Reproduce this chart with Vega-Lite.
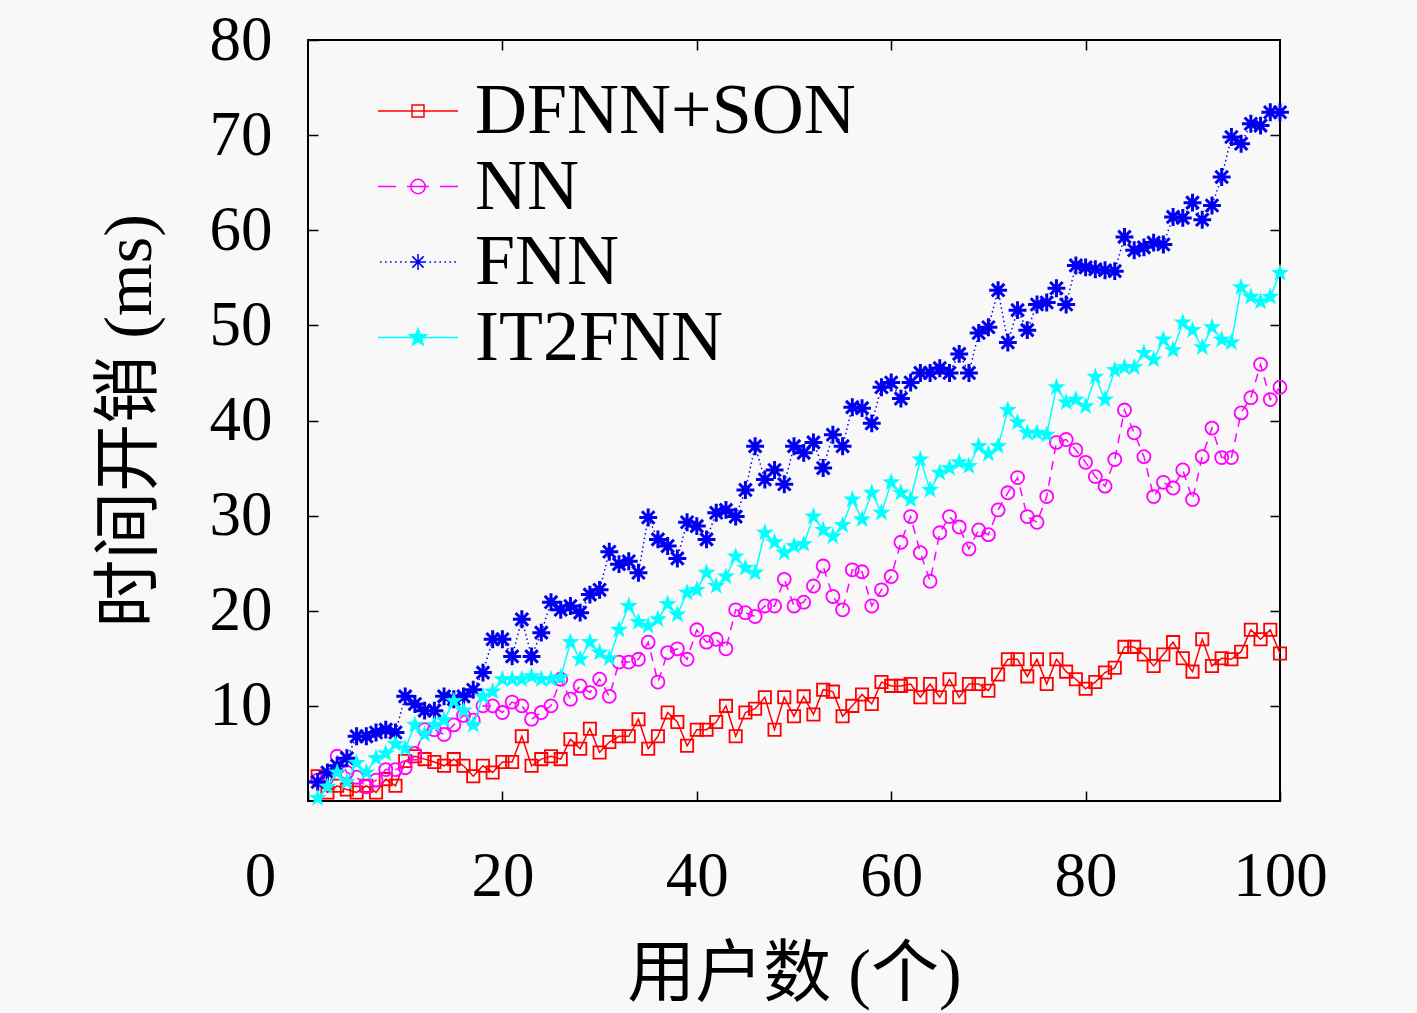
{
  "$schema": "https://vega.github.io/schema/vega-lite/v6.json",
  "width": 972,
  "height": 761,
  "autosize": "none",
  "padding": {"left": 308, "top": 40, "right": 137, "bottom": 212},
  "background": "#f8f8f8",
  "config": {
    "font": "Liberation Serif, Noto Sans CJK SC",
    "view": {"stroke": "black", "strokeWidth": 2},
    "axis": {
      "grid": false,
      "domain": false,
      "tickColor": "black",
      "tickWidth": 1.5,
      "tickSize": -10,
      "labelColor": "black",
      "labelFont": "Liberation Serif",
      "labelFontSize": 63,
      "labelFlush": false,
      "labelOverlap": false,
      "titleColor": "black",
      "titleFont": "Liberation Serif, Noto Sans CJK SC",
      "titleFontSize": 68,
      "titleFontWeight": "normal"
    }
  },
  "data": {
    "values": [
      {"s": "DFNN+SON", "x": 1, "y": 2.6}, {"s": "DFNN+SON", "x": 2, "y": 0.9}, {"s": "DFNN+SON", "x": 3, "y": 1.6}, {"s": "DFNN+SON", "x": 4, "y": 1.2}, {"s": "DFNN+SON", "x": 5, "y": 0.9},
      {"s": "DFNN+SON", "x": 6, "y": 1.6}, {"s": "DFNN+SON", "x": 7, "y": 0.9}, {"s": "DFNN+SON", "x": 8, "y": 2.3}, {"s": "DFNN+SON", "x": 9, "y": 1.6}, {"s": "DFNN+SON", "x": 10, "y": 4.2},
      {"s": "DFNN+SON", "x": 11, "y": 4.7}, {"s": "DFNN+SON", "x": 12, "y": 4.4}, {"s": "DFNN+SON", "x": 13, "y": 4.1}, {"s": "DFNN+SON", "x": 14, "y": 3.7}, {"s": "DFNN+SON", "x": 15, "y": 4.4},
      {"s": "DFNN+SON", "x": 16, "y": 3.7}, {"s": "DFNN+SON", "x": 17, "y": 2.6}, {"s": "DFNN+SON", "x": 18, "y": 3.7}, {"s": "DFNN+SON", "x": 19, "y": 3.0}, {"s": "DFNN+SON", "x": 20, "y": 4.1},
      {"s": "DFNN+SON", "x": 21, "y": 4.1}, {"s": "DFNN+SON", "x": 22, "y": 6.8}, {"s": "DFNN+SON", "x": 23, "y": 3.7}, {"s": "DFNN+SON", "x": 24, "y": 4.4}, {"s": "DFNN+SON", "x": 25, "y": 4.7},
      {"s": "DFNN+SON", "x": 26, "y": 4.4}, {"s": "DFNN+SON", "x": 27, "y": 6.5}, {"s": "DFNN+SON", "x": 28, "y": 5.5}, {"s": "DFNN+SON", "x": 29, "y": 7.6}, {"s": "DFNN+SON", "x": 30, "y": 5.1},
      {"s": "DFNN+SON", "x": 31, "y": 6.2}, {"s": "DFNN+SON", "x": 32, "y": 6.8}, {"s": "DFNN+SON", "x": 33, "y": 6.8}, {"s": "DFNN+SON", "x": 34, "y": 8.6}, {"s": "DFNN+SON", "x": 35, "y": 5.5},
      {"s": "DFNN+SON", "x": 36, "y": 6.8}, {"s": "DFNN+SON", "x": 37, "y": 9.3}, {"s": "DFNN+SON", "x": 38, "y": 8.3}, {"s": "DFNN+SON", "x": 39, "y": 5.8}, {"s": "DFNN+SON", "x": 40, "y": 7.5},
      {"s": "DFNN+SON", "x": 41, "y": 7.5}, {"s": "DFNN+SON", "x": 42, "y": 8.3}, {"s": "DFNN+SON", "x": 43, "y": 10.0}, {"s": "DFNN+SON", "x": 44, "y": 6.8}, {"s": "DFNN+SON", "x": 45, "y": 9.3},
      {"s": "DFNN+SON", "x": 46, "y": 9.7}, {"s": "DFNN+SON", "x": 47, "y": 10.9}, {"s": "DFNN+SON", "x": 48, "y": 7.5}, {"s": "DFNN+SON", "x": 49, "y": 10.9}, {"s": "DFNN+SON", "x": 50, "y": 8.9},
      {"s": "DFNN+SON", "x": 51, "y": 11.0}, {"s": "DFNN+SON", "x": 52, "y": 9.1}, {"s": "DFNN+SON", "x": 53, "y": 11.7}, {"s": "DFNN+SON", "x": 54, "y": 11.5}, {"s": "DFNN+SON", "x": 55, "y": 8.9},
      {"s": "DFNN+SON", "x": 56, "y": 10.0}, {"s": "DFNN+SON", "x": 57, "y": 11.2}, {"s": "DFNN+SON", "x": 58, "y": 10.2}, {"s": "DFNN+SON", "x": 59, "y": 12.5}, {"s": "DFNN+SON", "x": 60, "y": 12.1},
      {"s": "DFNN+SON", "x": 61, "y": 12.1}, {"s": "DFNN+SON", "x": 62, "y": 12.3}, {"s": "DFNN+SON", "x": 63, "y": 10.9}, {"s": "DFNN+SON", "x": 64, "y": 12.3}, {"s": "DFNN+SON", "x": 65, "y": 10.9},
      {"s": "DFNN+SON", "x": 66, "y": 12.8}, {"s": "DFNN+SON", "x": 67, "y": 10.9}, {"s": "DFNN+SON", "x": 68, "y": 12.3}, {"s": "DFNN+SON", "x": 69, "y": 12.3}, {"s": "DFNN+SON", "x": 70, "y": 11.6},
      {"s": "DFNN+SON", "x": 71, "y": 13.3}, {"s": "DFNN+SON", "x": 72, "y": 14.9}, {"s": "DFNN+SON", "x": 73, "y": 14.9}, {"s": "DFNN+SON", "x": 74, "y": 13.1}, {"s": "DFNN+SON", "x": 75, "y": 14.9},
      {"s": "DFNN+SON", "x": 76, "y": 12.3}, {"s": "DFNN+SON", "x": 77, "y": 14.9}, {"s": "DFNN+SON", "x": 78, "y": 13.6}, {"s": "DFNN+SON", "x": 79, "y": 12.8}, {"s": "DFNN+SON", "x": 80, "y": 11.8},
      {"s": "DFNN+SON", "x": 81, "y": 12.5}, {"s": "DFNN+SON", "x": 82, "y": 13.5}, {"s": "DFNN+SON", "x": 83, "y": 14.0}, {"s": "DFNN+SON", "x": 84, "y": 16.2}, {"s": "DFNN+SON", "x": 85, "y": 16.2},
      {"s": "DFNN+SON", "x": 86, "y": 15.4}, {"s": "DFNN+SON", "x": 87, "y": 14.2}, {"s": "DFNN+SON", "x": 88, "y": 15.4}, {"s": "DFNN+SON", "x": 89, "y": 16.7}, {"s": "DFNN+SON", "x": 90, "y": 15.0},
      {"s": "DFNN+SON", "x": 91, "y": 13.6}, {"s": "DFNN+SON", "x": 92, "y": 17.0}, {"s": "DFNN+SON", "x": 93, "y": 14.2}, {"s": "DFNN+SON", "x": 94, "y": 15.0}, {"s": "DFNN+SON", "x": 95, "y": 14.9},
      {"s": "DFNN+SON", "x": 96, "y": 15.7}, {"s": "DFNN+SON", "x": 97, "y": 18.0}, {"s": "DFNN+SON", "x": 98, "y": 17.0}, {"s": "DFNN+SON", "x": 99, "y": 18.0}, {"s": "DFNN+SON", "x": 100, "y": 15.5},
      {"s": "NN", "x": 1, "y": 2.2}, {"s": "NN", "x": 2, "y": 2.5}, {"s": "NN", "x": 3, "y": 4.7}, {"s": "NN", "x": 4, "y": 3.0}, {"s": "NN", "x": 5, "y": 2.5},
      {"s": "NN", "x": 6, "y": 1.5}, {"s": "NN", "x": 7, "y": 2.2}, {"s": "NN", "x": 8, "y": 3.3}, {"s": "NN", "x": 9, "y": 3.3}, {"s": "NN", "x": 10, "y": 3.5},
      {"s": "NN", "x": 11, "y": 5.0}, {"s": "NN", "x": 12, "y": 7.5}, {"s": "NN", "x": 13, "y": 7.5}, {"s": "NN", "x": 14, "y": 7.0}, {"s": "NN", "x": 15, "y": 8.0},
      {"s": "NN", "x": 16, "y": 9.0}, {"s": "NN", "x": 17, "y": 8.5}, {"s": "NN", "x": 18, "y": 10.0}, {"s": "NN", "x": 19, "y": 10.0}, {"s": "NN", "x": 20, "y": 9.3},
      {"s": "NN", "x": 21, "y": 10.4}, {"s": "NN", "x": 22, "y": 10.0}, {"s": "NN", "x": 23, "y": 8.6}, {"s": "NN", "x": 24, "y": 9.3}, {"s": "NN", "x": 25, "y": 10.0},
      {"s": "NN", "x": 26, "y": 12.8}, {"s": "NN", "x": 27, "y": 10.7}, {"s": "NN", "x": 28, "y": 12.1}, {"s": "NN", "x": 29, "y": 11.4}, {"s": "NN", "x": 30, "y": 12.8},
      {"s": "NN", "x": 31, "y": 11.0}, {"s": "NN", "x": 32, "y": 14.6}, {"s": "NN", "x": 33, "y": 14.6}, {"s": "NN", "x": 34, "y": 14.9}, {"s": "NN", "x": 35, "y": 16.7},
      {"s": "NN", "x": 36, "y": 12.5}, {"s": "NN", "x": 37, "y": 15.6}, {"s": "NN", "x": 38, "y": 16.0}, {"s": "NN", "x": 39, "y": 14.9}, {"s": "NN", "x": 40, "y": 18.0},
      {"s": "NN", "x": 41, "y": 16.7}, {"s": "NN", "x": 42, "y": 17.0}, {"s": "NN", "x": 43, "y": 16.0}, {"s": "NN", "x": 44, "y": 20.1}, {"s": "NN", "x": 45, "y": 19.8},
      {"s": "NN", "x": 46, "y": 19.4}, {"s": "NN", "x": 47, "y": 20.5}, {"s": "NN", "x": 48, "y": 20.5}, {"s": "NN", "x": 49, "y": 23.3}, {"s": "NN", "x": 50, "y": 20.5},
      {"s": "NN", "x": 51, "y": 20.9}, {"s": "NN", "x": 52, "y": 22.6}, {"s": "NN", "x": 53, "y": 24.7}, {"s": "NN", "x": 54, "y": 21.5}, {"s": "NN", "x": 55, "y": 20.1},
      {"s": "NN", "x": 56, "y": 24.3}, {"s": "NN", "x": 57, "y": 24.1}, {"s": "NN", "x": 58, "y": 20.5}, {"s": "NN", "x": 59, "y": 22.2}, {"s": "NN", "x": 60, "y": 23.6},
      {"s": "NN", "x": 61, "y": 27.2}, {"s": "NN", "x": 62, "y": 29.9}, {"s": "NN", "x": 63, "y": 26.1}, {"s": "NN", "x": 64, "y": 23.1}, {"s": "NN", "x": 65, "y": 28.2},
      {"s": "NN", "x": 66, "y": 29.9}, {"s": "NN", "x": 67, "y": 28.8}, {"s": "NN", "x": 68, "y": 26.5}, {"s": "NN", "x": 69, "y": 28.5}, {"s": "NN", "x": 70, "y": 28.0},
      {"s": "NN", "x": 71, "y": 30.6}, {"s": "NN", "x": 72, "y": 32.4}, {"s": "NN", "x": 73, "y": 34.0}, {"s": "NN", "x": 74, "y": 29.9}, {"s": "NN", "x": 75, "y": 29.3},
      {"s": "NN", "x": 76, "y": 32.0}, {"s": "NN", "x": 77, "y": 37.7}, {"s": "NN", "x": 78, "y": 38.0}, {"s": "NN", "x": 79, "y": 36.9}, {"s": "NN", "x": 80, "y": 35.6},
      {"s": "NN", "x": 81, "y": 34.1}, {"s": "NN", "x": 82, "y": 33.1}, {"s": "NN", "x": 83, "y": 35.9}, {"s": "NN", "x": 84, "y": 41.1}, {"s": "NN", "x": 85, "y": 38.7},
      {"s": "NN", "x": 86, "y": 36.2}, {"s": "NN", "x": 87, "y": 32.0}, {"s": "NN", "x": 88, "y": 33.5}, {"s": "NN", "x": 89, "y": 32.9}, {"s": "NN", "x": 90, "y": 34.8},
      {"s": "NN", "x": 91, "y": 31.7}, {"s": "NN", "x": 92, "y": 36.2}, {"s": "NN", "x": 93, "y": 39.2}, {"s": "NN", "x": 94, "y": 36.1}, {"s": "NN", "x": 95, "y": 36.1},
      {"s": "NN", "x": 96, "y": 40.8}, {"s": "NN", "x": 97, "y": 42.4}, {"s": "NN", "x": 98, "y": 45.9}, {"s": "NN", "x": 99, "y": 42.2}, {"s": "NN", "x": 100, "y": 43.5},
      {"s": "FNN", "x": 1, "y": 2.0}, {"s": "FNN", "x": 2, "y": 3.0}, {"s": "FNN", "x": 3, "y": 3.7}, {"s": "FNN", "x": 4, "y": 4.5}, {"s": "FNN", "x": 5, "y": 6.8},
      {"s": "FNN", "x": 6, "y": 6.8}, {"s": "FNN", "x": 7, "y": 7.2}, {"s": "FNN", "x": 8, "y": 7.5}, {"s": "FNN", "x": 9, "y": 7.2}, {"s": "FNN", "x": 10, "y": 11.0},
      {"s": "FNN", "x": 11, "y": 10.2}, {"s": "FNN", "x": 12, "y": 9.5}, {"s": "FNN", "x": 13, "y": 9.5}, {"s": "FNN", "x": 14, "y": 11.0}, {"s": "FNN", "x": 15, "y": 10.7},
      {"s": "FNN", "x": 16, "y": 11.0}, {"s": "FNN", "x": 17, "y": 11.7}, {"s": "FNN", "x": 18, "y": 13.5}, {"s": "FNN", "x": 19, "y": 17.0}, {"s": "FNN", "x": 20, "y": 17.0},
      {"s": "FNN", "x": 21, "y": 15.2}, {"s": "FNN", "x": 22, "y": 19.1}, {"s": "FNN", "x": 23, "y": 15.2}, {"s": "FNN", "x": 24, "y": 17.7}, {"s": "FNN", "x": 25, "y": 20.9},
      {"s": "FNN", "x": 26, "y": 20.1}, {"s": "FNN", "x": 27, "y": 20.5}, {"s": "FNN", "x": 28, "y": 19.8}, {"s": "FNN", "x": 29, "y": 21.7}, {"s": "FNN", "x": 30, "y": 22.2},
      {"s": "FNN", "x": 31, "y": 26.2}, {"s": "FNN", "x": 32, "y": 24.9}, {"s": "FNN", "x": 33, "y": 25.2}, {"s": "FNN", "x": 34, "y": 24.0}, {"s": "FNN", "x": 35, "y": 29.8},
      {"s": "FNN", "x": 36, "y": 27.5}, {"s": "FNN", "x": 37, "y": 26.8}, {"s": "FNN", "x": 38, "y": 25.5}, {"s": "FNN", "x": 39, "y": 29.3}, {"s": "FNN", "x": 40, "y": 28.9},
      {"s": "FNN", "x": 41, "y": 27.5}, {"s": "FNN", "x": 42, "y": 30.3}, {"s": "FNN", "x": 43, "y": 30.6}, {"s": "FNN", "x": 44, "y": 29.9}, {"s": "FNN", "x": 45, "y": 32.7},
      {"s": "FNN", "x": 46, "y": 37.3}, {"s": "FNN", "x": 47, "y": 33.8}, {"s": "FNN", "x": 48, "y": 34.8}, {"s": "FNN", "x": 49, "y": 33.3}, {"s": "FNN", "x": 50, "y": 37.3},
      {"s": "FNN", "x": 51, "y": 36.6}, {"s": "FNN", "x": 52, "y": 37.7}, {"s": "FNN", "x": 53, "y": 35.0}, {"s": "FNN", "x": 54, "y": 38.5}, {"s": "FNN", "x": 55, "y": 37.3},
      {"s": "FNN", "x": 56, "y": 41.4}, {"s": "FNN", "x": 57, "y": 41.3}, {"s": "FNN", "x": 58, "y": 39.7}, {"s": "FNN", "x": 59, "y": 43.5}, {"s": "FNN", "x": 60, "y": 44.0},
      {"s": "FNN", "x": 61, "y": 42.3}, {"s": "FNN", "x": 62, "y": 44.0}, {"s": "FNN", "x": 63, "y": 45.0}, {"s": "FNN", "x": 64, "y": 45.0}, {"s": "FNN", "x": 65, "y": 45.5},
      {"s": "FNN", "x": 66, "y": 45.0}, {"s": "FNN", "x": 67, "y": 47.0}, {"s": "FNN", "x": 68, "y": 45.0}, {"s": "FNN", "x": 69, "y": 49.2}, {"s": "FNN", "x": 70, "y": 49.8},
      {"s": "FNN", "x": 71, "y": 53.7}, {"s": "FNN", "x": 72, "y": 48.2}, {"s": "FNN", "x": 73, "y": 51.6}, {"s": "FNN", "x": 74, "y": 49.5}, {"s": "FNN", "x": 75, "y": 52.2},
      {"s": "FNN", "x": 76, "y": 52.4}, {"s": "FNN", "x": 77, "y": 53.9}, {"s": "FNN", "x": 78, "y": 52.2}, {"s": "FNN", "x": 79, "y": 56.3}, {"s": "FNN", "x": 80, "y": 56.1},
      {"s": "FNN", "x": 81, "y": 55.9}, {"s": "FNN", "x": 82, "y": 55.8}, {"s": "FNN", "x": 83, "y": 55.7}, {"s": "FNN", "x": 84, "y": 59.3}, {"s": "FNN", "x": 85, "y": 57.9},
      {"s": "FNN", "x": 86, "y": 58.2}, {"s": "FNN", "x": 87, "y": 58.7}, {"s": "FNN", "x": 88, "y": 58.5}, {"s": "FNN", "x": 89, "y": 61.4}, {"s": "FNN", "x": 90, "y": 61.3},
      {"s": "FNN", "x": 91, "y": 62.9}, {"s": "FNN", "x": 92, "y": 61.1}, {"s": "FNN", "x": 93, "y": 62.6}, {"s": "FNN", "x": 94, "y": 65.6}, {"s": "FNN", "x": 95, "y": 69.8},
      {"s": "FNN", "x": 96, "y": 69.1}, {"s": "FNN", "x": 97, "y": 71.2}, {"s": "FNN", "x": 98, "y": 71.0}, {"s": "FNN", "x": 99, "y": 72.4}, {"s": "FNN", "x": 100, "y": 72.4},
      {"s": "IT2FNN", "x": 1, "y": 0.3}, {"s": "IT2FNN", "x": 2, "y": 1.5}, {"s": "IT2FNN", "x": 3, "y": 3.0}, {"s": "IT2FNN", "x": 4, "y": 2.0}, {"s": "IT2FNN", "x": 5, "y": 4.0},
      {"s": "IT2FNN", "x": 6, "y": 3.0}, {"s": "IT2FNN", "x": 7, "y": 4.5}, {"s": "IT2FNN", "x": 8, "y": 5.0}, {"s": "IT2FNN", "x": 9, "y": 6.0}, {"s": "IT2FNN", "x": 10, "y": 5.5},
      {"s": "IT2FNN", "x": 11, "y": 8.0}, {"s": "IT2FNN", "x": 12, "y": 7.0}, {"s": "IT2FNN", "x": 13, "y": 8.0}, {"s": "IT2FNN", "x": 14, "y": 8.5}, {"s": "IT2FNN", "x": 15, "y": 10.5},
      {"s": "IT2FNN", "x": 16, "y": 9.5}, {"s": "IT2FNN", "x": 17, "y": 8.0}, {"s": "IT2FNN", "x": 18, "y": 11.0}, {"s": "IT2FNN", "x": 19, "y": 11.5}, {"s": "IT2FNN", "x": 20, "y": 12.8},
      {"s": "IT2FNN", "x": 21, "y": 12.8}, {"s": "IT2FNN", "x": 22, "y": 12.8}, {"s": "IT2FNN", "x": 23, "y": 13.1}, {"s": "IT2FNN", "x": 24, "y": 12.8}, {"s": "IT2FNN", "x": 25, "y": 12.8},
      {"s": "IT2FNN", "x": 26, "y": 13.0}, {"s": "IT2FNN", "x": 27, "y": 16.7}, {"s": "IT2FNN", "x": 28, "y": 14.9}, {"s": "IT2FNN", "x": 29, "y": 16.7}, {"s": "IT2FNN", "x": 30, "y": 15.6},
      {"s": "IT2FNN", "x": 31, "y": 15.0}, {"s": "IT2FNN", "x": 32, "y": 18.0}, {"s": "IT2FNN", "x": 33, "y": 20.5}, {"s": "IT2FNN", "x": 34, "y": 18.8}, {"s": "IT2FNN", "x": 35, "y": 18.4},
      {"s": "IT2FNN", "x": 36, "y": 19.1}, {"s": "IT2FNN", "x": 37, "y": 20.7}, {"s": "IT2FNN", "x": 38, "y": 19.6}, {"s": "IT2FNN", "x": 39, "y": 21.9}, {"s": "IT2FNN", "x": 40, "y": 22.2},
      {"s": "IT2FNN", "x": 41, "y": 24.0}, {"s": "IT2FNN", "x": 42, "y": 22.6}, {"s": "IT2FNN", "x": 43, "y": 23.6}, {"s": "IT2FNN", "x": 44, "y": 25.7}, {"s": "IT2FNN", "x": 45, "y": 24.5},
      {"s": "IT2FNN", "x": 46, "y": 24.0}, {"s": "IT2FNN", "x": 47, "y": 28.2}, {"s": "IT2FNN", "x": 48, "y": 27.2}, {"s": "IT2FNN", "x": 49, "y": 26.1}, {"s": "IT2FNN", "x": 50, "y": 26.8},
      {"s": "IT2FNN", "x": 51, "y": 27.0}, {"s": "IT2FNN", "x": 52, "y": 29.9}, {"s": "IT2FNN", "x": 53, "y": 28.5}, {"s": "IT2FNN", "x": 54, "y": 27.8}, {"s": "IT2FNN", "x": 55, "y": 29.0},
      {"s": "IT2FNN", "x": 56, "y": 31.7}, {"s": "IT2FNN", "x": 57, "y": 29.6}, {"s": "IT2FNN", "x": 58, "y": 32.4}, {"s": "IT2FNN", "x": 59, "y": 30.3}, {"s": "IT2FNN", "x": 60, "y": 33.5},
      {"s": "IT2FNN", "x": 61, "y": 32.4}, {"s": "IT2FNN", "x": 62, "y": 31.7}, {"s": "IT2FNN", "x": 63, "y": 35.9}, {"s": "IT2FNN", "x": 64, "y": 32.7}, {"s": "IT2FNN", "x": 65, "y": 34.5},
      {"s": "IT2FNN", "x": 66, "y": 35.0}, {"s": "IT2FNN", "x": 67, "y": 35.6}, {"s": "IT2FNN", "x": 68, "y": 35.2}, {"s": "IT2FNN", "x": 69, "y": 37.3}, {"s": "IT2FNN", "x": 70, "y": 36.5},
      {"s": "IT2FNN", "x": 71, "y": 37.3}, {"s": "IT2FNN", "x": 72, "y": 41.1}, {"s": "IT2FNN", "x": 73, "y": 39.8}, {"s": "IT2FNN", "x": 74, "y": 38.7}, {"s": "IT2FNN", "x": 75, "y": 38.7},
      {"s": "IT2FNN", "x": 76, "y": 38.5}, {"s": "IT2FNN", "x": 77, "y": 43.5}, {"s": "IT2FNN", "x": 78, "y": 41.9}, {"s": "IT2FNN", "x": 79, "y": 42.2}, {"s": "IT2FNN", "x": 80, "y": 41.5},
      {"s": "IT2FNN", "x": 81, "y": 44.6}, {"s": "IT2FNN", "x": 82, "y": 42.2}, {"s": "IT2FNN", "x": 83, "y": 45.3}, {"s": "IT2FNN", "x": 84, "y": 45.6}, {"s": "IT2FNN", "x": 85, "y": 45.6},
      {"s": "IT2FNN", "x": 86, "y": 47.1}, {"s": "IT2FNN", "x": 87, "y": 46.4}, {"s": "IT2FNN", "x": 88, "y": 48.5}, {"s": "IT2FNN", "x": 89, "y": 47.4}, {"s": "IT2FNN", "x": 90, "y": 50.3},
      {"s": "IT2FNN", "x": 91, "y": 49.5}, {"s": "IT2FNN", "x": 92, "y": 47.7}, {"s": "IT2FNN", "x": 93, "y": 49.8}, {"s": "IT2FNN", "x": 94, "y": 48.5}, {"s": "IT2FNN", "x": 95, "y": 48.2},
      {"s": "IT2FNN", "x": 96, "y": 54.0}, {"s": "IT2FNN", "x": 97, "y": 53.0}, {"s": "IT2FNN", "x": 98, "y": 52.5}, {"s": "IT2FNN", "x": 99, "y": 53.0}, {"s": "IT2FNN", "x": 100, "y": 55.5}
    ]
  },
  "layer": [
    {
      "mark": {"type": "point", "filled": false, "opacity": 0},
      "encoding": {
        "x": {
          "field": "x", "type": "quantitative",
          "scale": {"domain": [0, 100], "nice": false},
          "axis": {
            "orient": "bottom",
            "values": [0, 20, 40, 60, 80, 100],
            "labelPadding": 54,
            "labelOffset": {"condition": {"test": "datum.value === 0", "value": -48}, "value": 0},
            "title": "用户数 (个)",
            "titlePadding": 33
          }
        },
        "y": {
          "field": "y", "type": "quantitative",
          "scale": {"domain": [0, 80], "nice": false},
          "axis": {
            "orient": "left",
            "values": [10, 20, 30, 40, 50, 60, 70, 80],
            "labelPadding": 46,
            "title": "时间开销 (ms)",
            "titlePadding": 45
          }
        },
        "color": {
          "field": "s", "type": "nominal",
          "scale": {"domain": ["DFNN+SON", "NN", "FNN", "IT2FNN"], "range": ["#ff0000", "#ff00ff", "#0000ee", "#00ffff"]},
          "legend": {
            "orient": "none",
            "legendX": 74,
            "legendY": 35,
            "title": null,
            "padding": 0,
            "labelFont": "Liberation Serif",
            "labelFontSize": 72,
            "labelColor": "black",
            "labelLimit": 800,
            "labelOffset": 21,
            "labelBaseline": "middle",
            "symbolSize": 1600,
            "symbolOpacity": 1,
            "rowPadding": 3.5
          }
        },
        "shape": {
          "field": "s", "type": "nominal",
          "scale": {
            "domain": ["DFNN+SON", "NN", "FNN", "IT2FNN"],
            "range": [
              "M-2,0H2M-0.3,-0.3H0.3V0.3H-0.3Z",
              "M-2,0H-1.1M-0.55,0H0.55M1.1,0H2M0.36,0A0.36,0.36 0 1,1 -0.36,0A0.36,0.36 0 1,1 0.36,0",
              "M-1.9,0h0.08M-1.65,0h0.08M-1.4,0h0.08M-1.15,0h0.08M-0.9,0h0.08M-0.65,0h0.08M0.57,0h0.08M0.82,0h0.08M1.07,0h0.08M1.32,0h0.08M1.57,0h0.08M1.82,0h0.08M-0.4,0H0.4M0,-0.4V0.4M-0.28,-0.28L0.28,0.28M-0.28,0.28L0.28,-0.28",
              "M-2,0H2M0,-0.45L0.112,-0.154L0.428,-0.139L0.181,0.059L0.265,0.364L0,0.19L-0.265,0.364L-0.181,0.059L-0.428,-0.139L-0.112,-0.154Z"
            ]
          }
        },
        "fill": {
          "field": "s", "type": "nominal",
          "scale": {"domain": ["DFNN+SON", "NN", "FNN", "IT2FNN"], "range": ["transparent", "transparent", "transparent", "#00ffff"]}
        },
        "strokeWidth": {
          "field": "s", "type": "nominal",
          "scale": {"domain": ["DFNN+SON", "NN", "FNN", "IT2FNN"], "range": [1.5, 1.5, 2.2, 1.5]}
        },
        "size": {"value": 1600}
      }
    },
    {
      "transform": [{"filter": "datum.s === 'DFNN+SON'"}],
      "encoding": {
        "x": {"field": "x", "type": "quantitative", "axis": null},
        "y": {"field": "y", "type": "quantitative", "axis": null}
      },
      "layer": [
        {"mark": {"type": "line", "color": "#ff0000", "strokeWidth": 1.5, "clip": false}, "encoding": {}},
        {"mark": {"type": "point", "shape": "square", "size": 150, "color": "#ff0000", "filled": false, "strokeWidth": 1.8, "opacity": 1, "clip": false}, "encoding": {}}
      ]
    },
    {
      "transform": [{"filter": "datum.s === 'NN'"}],
      "encoding": {
        "x": {"field": "x", "type": "quantitative", "axis": null},
        "y": {"field": "y", "type": "quantitative", "axis": null}
      },
      "layer": [
        {"mark": {"type": "line", "color": "#ff00ff", "strokeWidth": 1.5, "strokeDash": [9, 7], "clip": false}, "encoding": {}},
        {"mark": {"type": "point", "shape": "circle", "size": 170, "color": "#ff00ff", "filled": false, "strokeWidth": 1.8, "opacity": 1, "clip": false}, "encoding": {}}
      ]
    },
    {
      "transform": [{"filter": "datum.s === 'FNN'"}],
      "encoding": {
        "x": {"field": "x", "type": "quantitative", "axis": null},
        "y": {"field": "y", "type": "quantitative", "axis": null}
      },
      "layer": [
        {"mark": {"type": "line", "color": "#0000ee", "strokeWidth": 1.5, "strokeDash": [1.5, 3], "clip": false}, "encoding": {}},
        {"mark": {"type": "point", "shape": "M-1,0L1,0M0,-1L0,1M-0.7,-0.7L0.7,0.7M-0.7,0.7L0.7,-0.7", "size": 320, "color": "#0000ee", "filled": false, "strokeWidth": 3, "opacity": 1, "clip": false}, "encoding": {}}
      ]
    },
    {
      "transform": [{"filter": "datum.s === 'IT2FNN'"}],
      "encoding": {
        "x": {"field": "x", "type": "quantitative", "axis": null},
        "y": {"field": "y", "type": "quantitative", "axis": null}
      },
      "layer": [
        {"mark": {"type": "line", "color": "#00ffff", "strokeWidth": 1.5, "clip": false}, "encoding": {}},
        {"mark": {"type": "point", "shape": "M0,-1L0.235,-0.324L0.951,-0.309L0.38,0.124L0.588,0.809L0,0.4L-0.588,0.809L-0.38,0.124L-0.951,-0.309L-0.235,-0.324Z", "size": 360, "color": "#00ffff", "filled": true, "strokeWidth": 1.2, "opacity": 1, "clip": false}, "encoding": {}}
      ]
    },
    {
      "mark": {"type": "point", "opacity": 0},
      "encoding": {
        "x": {
          "field": "x", "type": "quantitative",
          "axis": {"orient": "top", "values": [20, 40, 60, 80], "labels": false, "title": null}
        },
        "y": {
          "field": "y", "type": "quantitative",
          "axis": {"orient": "right", "values": [10, 20, 30, 40, 50, 60, 70], "labels": false, "title": null}
        }
      }
    }
  ],
  "resolve": {"axis": {"x": "independent", "y": "independent"}}
}
